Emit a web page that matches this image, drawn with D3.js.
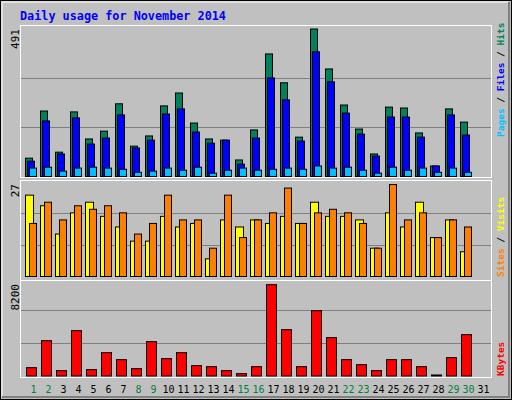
<!DOCTYPE html>
<html><head><meta charset="utf-8">
<script src="https://cdn.jsdelivr.net/npm/d3@7"></script>
<style>body{margin:0;background:#fff}</style>
</head><body>
<svg id="chart" width="512" height="400"></svg>
<script>
var days = d3.range(1, 32);
var weekend = [1, 2, 8, 9, 15, 16, 22, 23, 29, 30];
var hits = [61,218,81,215,125,151,242,101,135,235,278,178,125,121,55,155,408,312,131,491,358,238,158,75,231,228,145,35,225,181,0];
var files = [51,185,75,195,108,128,205,95,121,208,225,148,111,121,41,128,328,255,118,415,315,211,141,68,198,198,131,35,205,138,0];
var pages = [28,31,18,28,31,28,24,14,18,28,21,31,11,21,28,21,24,28,24,35,28,31,21,11,31,21,28,14,28,14,0];
var sites = [23,20,12,18,21,17,14,10,10,17,14,15,5,16,14,16,15,17,15,21,17,17,16,8,18,14,21,11,16,7,0];
var visits = [15,21,16,20,19,20,18,12,15,23,16,16,8,23,11,16,18,25,15,18,19,18,15,8,26,16,18,11,16,14,0];
var kbytes = [690,2927,442,3755,525,1933,1353,607,2844,1436,1933,856,773,442,193,773,7565,3838,773,5411,3175,1353,939,442,1353,1353,773,83,1519,3424,0];
var maxHits = 491, maxSites = 27, maxKB = 8200;

var svg = d3.select("#chart");
var mono = "'DejaVu Sans Mono', monospace";

// background and bevel
svg.append("rect").attr("x", 0.5).attr("y", 0.5).attr("width", 511).attr("height", 399)
    .attr("fill", "#c0c0c0").attr("stroke", "#000");
svg.append("path").attr("d", "M2,397V2H509").attr("stroke", "#fff").attr("fill", "none");
svg.append("path").attr("d", "M2,397H509V2").attr("stroke", "#808080").attr("fill", "none").attr("stroke-width", 2);

svg.append("text").attr("x", 20).attr("y", 20).text("Daily usage for November 2014")
    .attr("font-family", mono).attr("font-weight", "bold").attr("font-size", 11.8).attr("fill", "#0000ff");

var x = d3.scaleBand().domain(days).range([25, 490]);

var panels = [
    {top: 25, bottom: 177, base: 176.5, max: maxHits, topY: 29, label: "491"},
    {top: 180, bottom: 280, base: 276.5, max: maxSites, topY: 181, label: "27"},
    {top: 280, bottom: 377, base: 376, max: maxKB, topY: 277, label: "8200"}
];
panels.forEach(function(p)
{
    p.y = d3.scaleLinear().domain([0, p.max]).range([p.base, p.topY]);
    svg.append("rect").attr("x", 20.5).attr("y", p.top + 0.5).attr("width", 471).attr("height", p.bottom - p.top)
        .attr("fill", "#c0c0c0").attr("stroke", "#fff");
    [1/3, 2/3].forEach(function(f)
    {
        var gy = Math.round(p.y(p.max * f)) + 0.5;
        svg.append("line").attr("x1", 21).attr("x2", 491).attr("y1", gy).attr("y2", gy)
            .attr("stroke", "#808080");
    });
    svg.append("text").attr("transform", "translate(19," + (p.top + 4) + ") rotate(-90)")
        .attr("text-anchor", "end").attr("font-family", mono).attr("font-size", 11).text(p.label);
});

function drawSeries(data, panel, off, w, color)
{
    var g = svg.append("g");
    data.forEach(function(d, i)
    {
        if (d <= 0) return;
        g.append("rect").attr("x", x(days[i]) + off + 0.5).attr("y", panel.y(d))
            .attr("width", w).attr("height", panel.base - panel.y(d))
            .attr("fill", color).attr("stroke", "#000");
    });
}
drawSeries(hits, panels[0], 0, 7, "#00805c");
drawSeries(files, panels[0], 2, 7, "#0000ff");
drawSeries(pages, panels[0], 4, 7, "#00c0ff");
drawSeries(sites, panels[1], 0, 8, "#ffff00");
drawSeries(visits, panels[1], 4, 7, "#ff8000");
drawSeries(kbytes, panels[2], 1, 10, "#ff0000");

// day labels
svg.append("g").selectAll("text").data(days).enter().append("text")
    .attr("x", function(d) { return x(d) + x.bandwidth() / 2 + 1; })
    .attr("y", 393).attr("text-anchor", "middle")
    .attr("font-family", mono).attr("font-size", 10)
    .attr("fill", function(d) { return weekend.indexOf(d) >= 0 ? "#008040" : "#000"; })
    .text(function(d) { return d; });

// side legends
function legend(parts, xPos, yPos)
{
    var t = svg.append("text").attr("transform", "translate(" + xPos + "," + yPos + ") rotate(-90)")
        .attr("font-family", mono).attr("font-size", 9.5).attr("font-weight", "bold");
    parts.forEach(function(p)
    {
        t.append("tspan").attr("fill", p[1]).text(p[0]);
    });
}
legend([["Pages", "#00c0ff"], [" / ", "#000"], ["Files", "#0000ff"], [" / ", "#000"], ["Hits", "#00805c"]], 504, 137);
legend([["Sites", "#ff8000"], [" / ", "#000"], ["Visits", "#ffff00"]], 504, 277);
legend([["KBytes", "#ff0000"]], 504, 376);
</script>
</body></html>
